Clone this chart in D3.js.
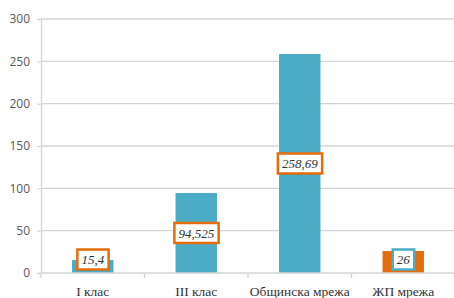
<!DOCTYPE html>
<html>
<head>
<meta charset="utf-8">
<script src="https://cdn.jsdelivr.net/npm/d3@7"></script>
<style>
  body { margin: 0; background: #fff; }
</style>
</head>
<body>
<svg id="plot" width="454" height="298"></svg>
<script>
// chart data
var categories = ["I клас", "III клас", "Общинска мрежа", "ЖП мрежа"];
var values = [15.4, 94.525, 258.69, 26];
var labels = ["15,4", "94,525", "258,69", "26"];
var yTicks = [0, 50, 100, 150, 200, 250, 300];

var blue = "#4bacc6";
var orange = "#e46c0a";
var barColors = [blue, blue, blue, orange];
var boxColors = [orange, orange, orange, blue];

var plotLeft = 41, plotRight = 455, plotTop = 19, plotBottom = 273;
var gridColor = "#d4d4d4";

var svg = d3.select("#plot");

var x = d3.scaleBand()
  .domain(categories)
  .range([plotLeft, plotRight])
  .paddingInner(0.6)
  .paddingOuter(0.3);

var y = d3.scaleLinear()
  .domain([0, 300])
  .range([plotBottom, plotTop]);

// gridlines
svg.append("g")
  .selectAll("line")
  .data(yTicks.slice(1))
  .enter()
  .append("line")
  .attr("x1", plotLeft)
  .attr("x2", plotRight)
  .attr("y1", function(d) { return y(d); })
  .attr("y2", function(d) { return y(d); })
  .attr("stroke", gridColor)
  .attr("stroke-width", 1.3);

// y axis
var yAxis = d3.axisLeft(y).tickValues(yTicks).tickSize(4).tickPadding(7);
var gy = svg.append("g")
  .attr("transform", "translate(" + plotLeft + ",0)")
  .call(yAxis);
gy.select(".domain").attr("stroke", gridColor).attr("stroke-width", 1.3);
gy.selectAll(".tick line").attr("stroke", gridColor);
gy.selectAll("text")
  .attr("font-family", "Open Sans, sans-serif")
  .attr("font-size", "12px")
  .attr("fill", "#595959");

// bars
svg.append("g")
  .selectAll("rect")
  .data(values)
  .enter()
  .append("rect")
  .attr("x", function(d, i) { return x(categories[i]); })
  .attr("width", x.bandwidth())
  .attr("y", function(d) { return y(d); })
  .attr("height", function(d) { return y(0) - y(d); })
  .attr("fill", function(d, i) { return barColors[i]; });

// x axis with ticks at the category edges
svg.append("line")
  .attr("x1", plotLeft).attr("x2", plotRight)
  .attr("y1", plotBottom).attr("y2", plotBottom)
  .attr("stroke", gridColor).attr("stroke-width", 1.3);

var step = (plotRight - plotLeft) / categories.length;
var edges = d3.range(categories.length + 1).map(function(i) { return plotLeft + i * step; });
svg.append("g")
  .selectAll("line")
  .data(edges)
  .enter()
  .append("line")
  .attr("x1", function(d) { return d; })
  .attr("x2", function(d) { return d; })
  .attr("y1", plotBottom)
  .attr("y2", plotBottom + 5)
  .attr("stroke", gridColor)
  .attr("stroke-width", 1.3);

svg.append("g")
  .selectAll("text")
  .data(categories)
  .enter()
  .append("text")
  .text(function(d) { return d; })
  .attr("x", function(d) { return x(d) + x.bandwidth() / 2; })
  .attr("y", 296)
  .attr("text-anchor", "middle")
  .attr("font-family", "Liberation Serif, serif")
  .attr("font-size", "13.5px")
  .attr("fill", "#333");

// value labels in boxes
var lbl = svg.append("g")
  .selectAll("g")
  .data(values)
  .enter()
  .append("g")
  .attr("transform", function(d, i) {
    var cy = Math.min((y(0) + y(d)) / 2, plotBottom - 13.5);
    return "translate(" + (x(categories[i]) + x.bandwidth() / 2) + "," + cy + ")";
  });

lbl.append("text")
  .text(function(d, i) { return labels[i]; })
  .attr("text-anchor", "middle")
  .attr("dy", "0.35em")
  .attr("font-family", "Liberation Serif, serif")
  .attr("font-style", "italic")
  .attr("font-size", "13px")
  .attr("fill", "#333");

lbl.each(function(d, i) {
  var g = d3.select(this);
  var bb = g.select("text").node().getBBox();
  g.insert("rect", "text")
    .attr("x", bb.x - 4)
    .attr("y", -10)
    .attr("width", bb.width + 8)
    .attr("height", 20)
    .attr("fill", "#fff")
    .attr("stroke", boxColors[i])
    .attr("stroke-width", 2.5);
});
</script>
</body>
</html>
